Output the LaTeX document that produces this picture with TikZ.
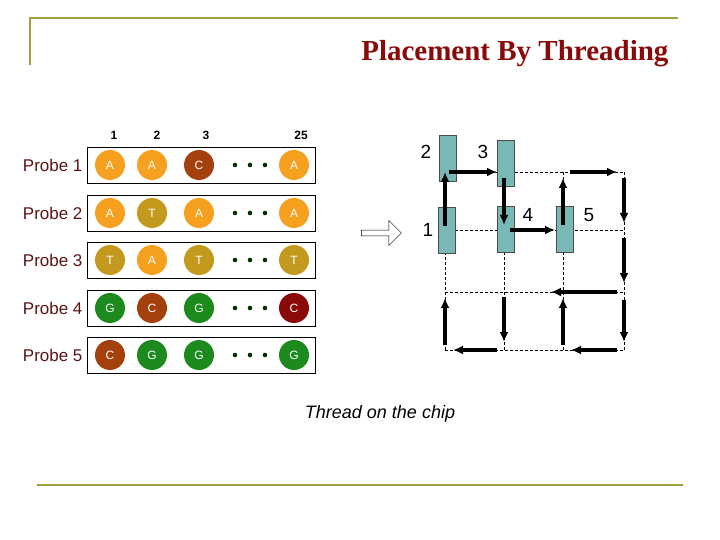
\documentclass[tikz,border=0pt]{standalone}
\usepackage{fontspec}
\setmainfont{Liberation Sans}
\newfontfamily\titlefont{Liberation Serif}
\usetikzlibrary{shapes,arrows.meta}
\definecolor{baseA}{HTML}{F5A01E}
\definecolor{baseT}{HTML}{C49A1E}
\definecolor{baseC}{HTML}{A3400C}
\definecolor{baseG}{HTML}{1C8A1C}
\definecolor{baseD}{HTML}{8A0A0A}
\definecolor{frame}{HTML}{A0A040}
\definecolor{probetext}{HTML}{5A1414}
\definecolor{cell}{HTML}{79B8B4}

\begin{document}
\begin{tikzpicture}[x=1pt, y=-1pt,
    base/.style ={circle, draw=none, minimum size=30pt, inner sep=0pt,
      text=white, font=\fontsize{12}{12}\selectfont},
    strand/.style ={rectangle, draw=black, thick, minimum width=228pt,
      minimum height=36pt},
    probe/.style ={anchor=east, text=probetext, font=\fontsize{17}{17}\selectfont},
    header/.style ={font=\bfseries\fontsize{12}{12}\selectfont},
    cellbox/.style ={rectangle, draw=gray!60!black, fill=cell, minimum width=17pt,
      minimum height=46pt, inner sep=0pt},
    tag/.style ={font=\fontsize{19}{19}\selectfont},
    grid/.style ={draw, thin, dashed, dash pattern=on 3pt off 2pt},
    line/.style ={draw, line width=3.4pt, -{Latex[length=10pt,width=9pt]}, shorten >=0pt}]

    \useasboundingbox (0,0) rectangle (720,540);

    % frame and title
    \draw [frame, line width=1.2pt] (30,65) -- (30,18) -- (678,18);
    \draw [frame, line width=1.2pt] (37,485) -- (683,485);
    \node [anchor=east, text=baseD, font=\titlefont\bfseries\fontsize{29}{29}\selectfont]
      (title) at (672,54) {Placement By Threading};

    % column headers
    \node [header] (h1) at (114,135) {1};
    \node [header] (h2) at (157,135) {2};
    \node [header] (h3) at (206,135) {3};
    \node [header] (h25) at (301,135) {25};

    % probes
    \foreach \i/\y/\a/\b/\c/\d/\ca/\cb/\cc/\cd in
      {1/165/A/A/C/A/baseA/baseA/baseC/baseA,
       2/213/A/T/A/A/baseA/baseT/baseA/baseA,
       3/260/T/A/T/T/baseT/baseA/baseT/baseT,
       4/308/G/C/G/C/baseG/baseC/baseG/baseD,
       5/355/C/G/G/G/baseC/baseG/baseG/baseG} {
      \node [strand] (strand\i) at (201,\y) {};
      \node [probe] (probe\i) at (86,\y) {Probe \i};
      \node [base, fill=\ca] (b\i-1) at (110,\y) {\a};
      \node [base, fill=\cb] (b\i-2) at (152,\y) {\b};
      \node [base, fill=\cc] (b\i-3) at (199,\y) {\c};
      \node [base, fill=\cd] (b\i-25) at (294,\y) {\d};
      \foreach \x in {235,250,265}
        \fill [black!80!green] (\x,\y) circle (2.3pt);
    }

    % hollow arrow
    \node [single arrow, draw, minimum height=40pt, minimum width=25pt,
      single arrow head extend=4pt, inner sep=1pt] (toChip) at (380,233) {};

    % chip grid
    \foreach \x in {445,504,563,624}
      \path [grid] (\x,172) -- (\x,350);
    \foreach \y in {172,230,292,350}
      \path [grid] (445,\y) -- (624,\y);

    % probes on the chip
    \node [cellbox] (c1) at (447,230) {};
    \node [cellbox] (c2) at (448,158) {};
    \node [cellbox] (c3) at (506,163) {};
    \node [cellbox] (c4) at (506,229) {};
    \node [cellbox] (c5) at (565,229) {};
    \node [tag] (l1) at (428,230) {1};
    \node [tag] (l2) at (426,152) {2};
    \node [tag] (l3) at (483,152) {3};
    \node [tag] (l4) at (528,215) {4};
    \node [tag] (l5) at (589,215) {5};

    % thread
    \coordinate (p1) at (445,230); \coordinate (p2) at (445,172);
    \coordinate (p3) at (504,172); \coordinate (p4) at (504,230);
    \coordinate (p5) at (563,230); \coordinate (p6) at (563,172);
    \coordinate (p7) at (624,172); \coordinate (p8) at (624,230);
    \coordinate (p9) at (624,292); \coordinate (p10) at (624,350);
    \coordinate (p11) at (563,350); \coordinate (p12) at (563,292);
    \coordinate (p13) at (504,292); \coordinate (p14) at (504,350);
    \coordinate (p15) at (445,350); \coordinate (p16) at (445,292);
    \path [line, shorten <=4pt] (p1) -- (p2);
    \path [line, shorten <=4pt, shorten >=7pt] (p2) -- (p3);
    \path [line, shorten <=6pt, shorten >=5pt] (p3) -- (p4);
    \path [line, shorten <=6pt, shorten >=8pt] (p4) -- (p5);
    \path [line, shorten <=5pt, shorten >=6pt] (p5) -- (p6);
    \path [line, shorten <=7pt, shorten >=7pt] (p6) -- (p7);
    \path [line, shorten <=6pt, shorten >=7pt] (p7) -- (p8);
    \path [line, shorten <=8pt, shorten >=9pt] (p8) -- (p9);
    \path [line, shorten <=7pt, shorten >=47pt] (p9) -- (p13);
    \path [line, shorten <=8pt, shorten >=8pt] (p9) -- (p10);
    \path [line, shorten <=7pt, shorten >=8pt] (p10) -- (p11);
    \path [line, shorten <=5pt, shorten >=6pt] (p11) -- (p12);
    \path [line, shorten <=5pt, shorten >=8pt] (p13) -- (p14);
    \path [line, shorten <=7pt, shorten >=8pt] (p14) -- (p15);
    \path [line, shorten <=5pt, shorten >=6pt] (p15) -- (p16);

    \node [font=\itshape\fontsize{18}{18}\selectfont] (caption) at (380,414)
      {Thread on the chip};
  \end{tikzpicture}
\end{document}
